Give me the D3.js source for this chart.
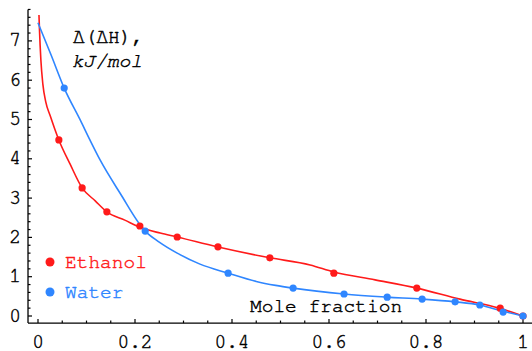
<!DOCTYPE html>
<html><head><meta charset="utf-8">
<script src="https://cdn.jsdelivr.net/npm/d3@7"></script>
<style>
html,body{margin:0;padding:0;background:#fff;}
svg{display:block;}
text{font-family:"FreeMono","Courier New",monospace;}
</style></head>
<body><svg id="c" width="532" height="351"></svg>
<script>
// ---- data ----
const xTickValues = [0, 0.2, 0.4, 0.6, 0.8, 1];
const xTickLabels = ["0", "0.2", "0.4", "0.6", "0.8", "1"];
const yTickValues = [0, 1, 2, 3, 4, 5, 6, 7];
const yTickLabels = ["0", "1", "2", "3", "4", "5", "6", "7"];

const ethanolX = [0.043, 0.091, 0.142, 0.21, 0.287, 0.371, 0.478, 0.61, 0.781, 0.953, 1.0];
const ethanolY = [4.48, 3.26, 2.65, 2.29, 2.01, 1.76, 1.48, 1.09, 0.71, 0.20, 0.0];
const waterX = [0.054, 0.221, 0.392, 0.526, 0.631, 0.72, 0.792, 0.86, 0.911, 0.959, 1.0];
const waterY = [5.80, 2.16, 1.09, 0.71, 0.56, 0.48, 0.43, 0.36, 0.28, 0.10, 0.0];

// fitted curves
const ethanolFitX = [0.002, 0.003, 0.006, 0.010, 0.016, 0.025, 0.034, 0.043, 0.066, 0.091, 0.118, 0.142, 0.179, 0.21, 0.252, 0.287, 0.369, 0.478, 0.561, 0.61, 0.695, 0.781, 0.87, 0.951, 1.0];
const ethanolFitY = [7.66, 7.30, 6.50, 5.90, 5.45, 5.10, 4.78, 4.48, 3.87, 3.26, 2.93, 2.65, 2.44, 2.26, 2.11, 2.01, 1.76, 1.48, 1.30, 1.12, 0.92, 0.71, 0.43, 0.20, 0.0];
const waterFitX = [0.0, 0.027, 0.054, 0.087, 0.107, 0.128, 0.169, 0.221, 0.25, 0.287, 0.334, 0.392, 0.45, 0.49, 0.526, 0.631, 0.72, 0.792, 0.86, 0.911, 0.959, 1.0];
const waterFitY = [7.46, 6.64, 5.80, 4.99, 4.48, 3.97, 3.13, 2.16, 1.88, 1.60, 1.32, 1.09, 0.88, 0.78, 0.71, 0.56, 0.48, 0.43, 0.36, 0.28, 0.12, 0.0];

const seriesNames = ["Ethanol", "Water"];
const seriesColors = ["#ff1a1a", "#2f86ff"];

// ---- scales ----
const x = d3.scaleLinear().domain([0, 1]).range([38, 523]);
const y = d3.scaleLinear().domain([0, 7]).range([316, 316 - 7 * 39.3]);
const xAxisAt = -0.18, yAxisAt = -0.0206;

const svg = d3.select("#c");
const black = "#000";
const FS = 19.5;

function txt(sel, color) {
  return sel.attr("fill", color).attr("stroke", color).attr("stroke-width", 0.45);
}

// axes lines
svg.append("line").attr("x1", x(yAxisAt)).attr("x2", 532).attr("y1", y(xAxisAt)).attr("y2", y(xAxisAt))
  .attr("stroke", black).attr("stroke-width", 1.3);
svg.append("line").attr("x1", x(yAxisAt)).attr("x2", x(yAxisAt)).attr("y1", y(xAxisAt)).attr("y2", y(7.8))
  .attr("stroke", black).attr("stroke-width", 1.3);

// x ticks
const xMinor = d3.range(0, 1.0001, 0.05);
svg.selectAll(".xt").data(xMinor).enter().append("line")
  .attr("x1", d => x(d)).attr("x2", d => x(d))
  .attr("y1", y(xAxisAt)).attr("y2", (d, i) => y(xAxisAt) - (i % 4 === 0 ? 4 : 2.5))
  .attr("stroke", black).attr("stroke-width", 1.2);
txt(svg.selectAll(".xl").data(xTickValues).enter().append("text")
  .attr("x", d => x(d)).attr("y", 347.5).attr("text-anchor", "middle")
  .attr("font-size", FS).text((d, i) => xTickLabels[i]), black);

// y ticks
const yMinor = d3.range(0, 7.81, 0.2);
svg.selectAll(".yt").data(yMinor).enter().append("line")
  .attr("y1", d => y(d)).attr("y2", d => y(d))
  .attr("x1", x(yAxisAt)).attr("x2", (d, i) => x(yAxisAt) + (i % 5 === 0 ? 4 : 2.5))
  .attr("stroke", black).attr("stroke-width", 1.2);
txt(svg.selectAll(".yl").data(yTickValues).enter().append("text")
  .attr("x", 21).attr("y", d => y(d) + 5.5).attr("text-anchor", "end")
  .attr("font-size", FS).text((d, i) => yTickLabels[i]), black);

// curves
const line = d3.line().x(d => x(d[0])).y(d => y(d[1])).curve(d3.curveMonotoneX);
const fits = [d3.zip(ethanolFitX, ethanolFitY), d3.zip(waterFitX, waterFitY)];
fits.forEach((f, i) => {
  svg.append("path").attr("d", line(f)).attr("fill", "none")
    .attr("stroke", seriesColors[i]).attr("stroke-width", 1.6);
});

// points
const pts = [d3.zip(ethanolX, ethanolY), d3.zip(waterX, waterY)];
pts.forEach((p, i) => {
  svg.selectAll(".p" + i).data(p).enter().append("circle")
    .attr("cx", d => x(d[0])).attr("cy", d => y(d[1])).attr("r", 3.6)
    .attr("fill", seriesColors[i]);
});

// title label
txt(svg.append("text").attr("x", 73).attr("y", 43).attr("font-size", FS).text("Δ(ΔH),"), black);
txt(svg.append("text").attr("x", 72).attr("y", 67).attr("font-size", FS).attr("font-style", "italic").text("kJ/mol"), black);

// legend
seriesNames.forEach((n, i) => {
  const ly = 262 + i * 30;
  svg.append("circle").attr("cx", 50).attr("cy", ly).attr("r", 4.5).attr("fill", seriesColors[i]);
  txt(svg.append("text").attr("x", 65).attr("y", ly + 5.5).attr("font-size", FS).text(n), seriesColors[i]);
});

// axis label
txt(svg.append("text").attr("x", 250).attr("y", 312).attr("font-size", FS).text("Mole fraction"), black);
</script></body></html>
